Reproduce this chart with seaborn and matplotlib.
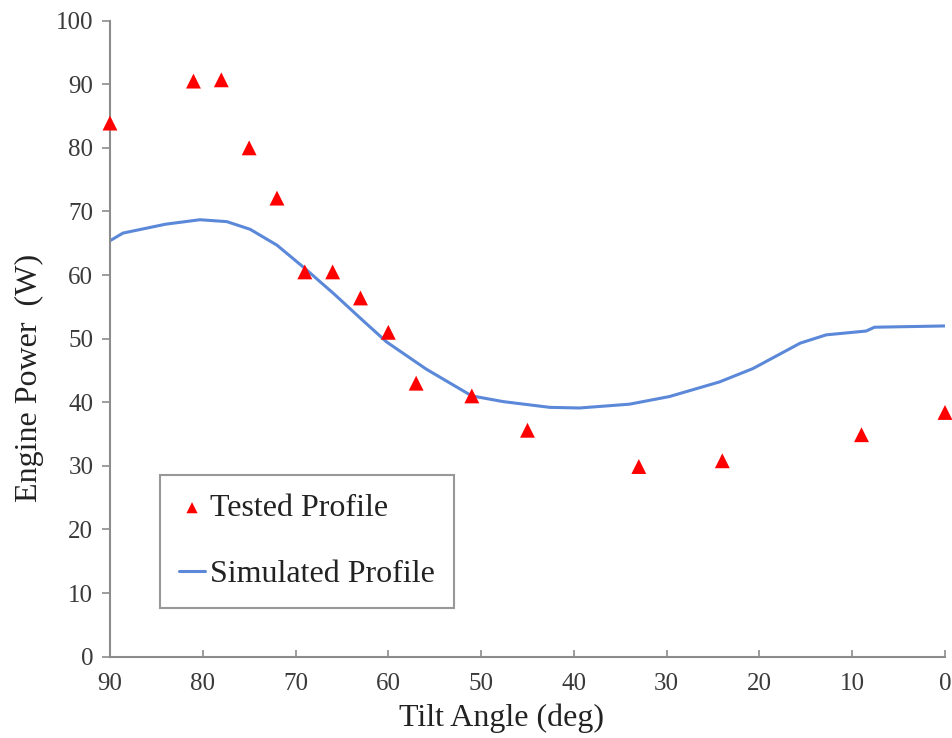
import matplotlib
matplotlib.use("Agg")
import matplotlib.pyplot as plt
import seaborn as sns
import pandas as pd

tested_angle = [90, 81, 78, 75, 72, 69, 66, 63, 60, 57, 51, 45, 33, 24, 9, 0]
tested_power = [83.9, 90.5, 90.7, 80.0, 72.1, 60.5, 60.5, 56.4, 51.0, 43.0, 41.0, 35.6, 29.9, 30.8, 34.9, 38.4]

sim_angle = [90, 88.6, 84, 80.3, 77.4, 74.9, 72, 69.2, 65.9, 63, 60.2, 55.9, 51, 47.6, 42.6,
             39.4, 34, 29.7, 24.3, 20.7, 15.6, 12.8, 8.5, 7.6, 0]
sim_power = [65.4, 66.6, 68.0, 68.7, 68.4, 67.2, 64.7, 61.3, 57.1, 53.2, 49.5, 45.2, 41.0, 40.1, 39.2,
             39.1, 39.7, 40.9, 43.2, 45.3, 49.3, 50.6, 51.2, 51.8, 52.0]

x_ticks = [90, 80, 70, 60, 50, 40, 30, 20, 10, 0]
y_ticks = [0, 10, 20, 30, 40, 50, 60, 70, 80, 90, 100]

sns.set_style("white")
plt.rcParams['font.family'] = ['Liberation Serif', 'DejaVu Serif']

fig = plt.figure(figsize=(9.53, 7.38), dpi=100)
ax = fig.add_axes([0.1154, 0.1102, 0.8762, 0.8618])

tested = pd.DataFrame({"angle": tested_angle, "power": tested_power})
sim = pd.DataFrame({"angle": sim_angle, "power": sim_power})

sns.scatterplot(data=tested, x="angle", y="power", marker="^", color="#ff0000",
                s=115, edgecolor="none", ax=ax, label="Tested Profile", zorder=3,
                clip_on=False)
sns.lineplot(data=sim, x="angle", y="power", color="#5b88d8", linewidth=2.2,
             ax=ax, label="Simulated Profile", sort=False, estimator=None)

ax.set_xlim(90, 0)
ax.set_ylim(0, 100)
ax.set_xticks(x_ticks)
ax.set_yticks(y_ticks)

for s in ["top", "right"]:
    ax.spines[s].set_visible(False)
for s in ["left", "bottom"]:
    ax.spines[s].set_color("#8c8c8c")
    ax.spines[s].set_linewidth(1.5)

ax.tick_params(axis="y", direction="out", length=6, width=1.2, color="#8c8c8c",
               labelsize=18, labelcolor="#3a3a3a", pad=6, left=True)
ax.tick_params(axis="x", direction="in", length=5, width=1.2, color="#8c8c8c",
               labelsize=18, labelcolor="#3a3a3a", pad=12, bottom=True)

ax.set_xlabel("Tilt Angle (deg)", fontsize=23, color="#222222")
ax.xaxis.set_label_coords(0.469, -0.073)
ax.set_ylabel("Engine Power  (W)", fontsize=23, color="#222222")
ax.yaxis.set_label_coords(-0.079, 0.438)

leg = ax.legend(loc="lower left", bbox_to_anchor=(0.06, 0.076), borderaxespad=0,
                fontsize=23, frameon=True, fancybox=False, borderpad=0.6,
                labelspacing=1.15, handlelength=0.8, handletextpad=0.15,
                markerscale=0.75)
leg.get_frame().set_edgecolor("#7f7f7f")
leg.get_frame().set_linewidth(1.5)
for t in leg.get_texts():
    t.set_color("#222222")

fig.savefig("out.png", dpi=100)
